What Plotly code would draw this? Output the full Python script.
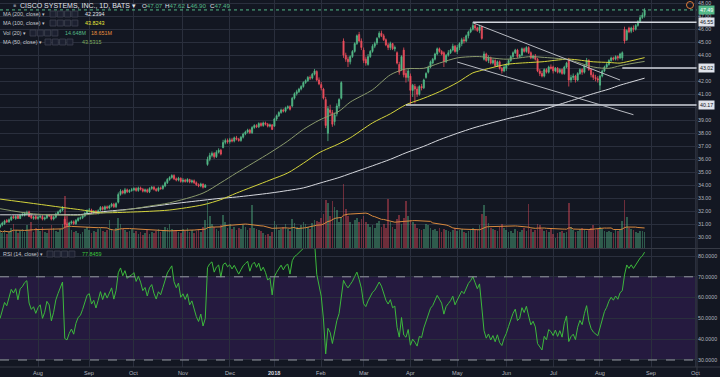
import numpy as np
import pandas as pd
import plotly.graph_objects as go

# ---------------- data ----------------
session_start = "2017-07-07"
session_end = "2018-08-29"
future_end = "2018-10-31"
market_holidays = ["2017-09-04", "2017-11-23", "2017-12-25", "2018-01-01", "2018-01-15",
                   "2018-02-19", "2018-03-30", "2018-05-28", "2018-07-04"]

open_px = [
    30.80, 30.95, 31.05, 31.30, 31.20, 31.35, 31.60, 31.45, 31.65, 31.45, 31.70, 31.70, 31.80, 31.95, 31.65, 31.45, 31.60,
    31.45, 31.55, 31.60, 31.40, 31.50, 31.70, 31.65, 31.40, 31.55, 31.80, 31.95, 32.10, 31.40, 31.00, 30.95, 31.10, 31.20, 31.05, 31.30, 31.45, 31.50, 31.65, 31.85,
    32.05, 32.10, 31.90, 32.00, 31.85, 32.10, 32.30, 32.15, 32.35, 32.25, 32.40, 32.55, 32.35, 32.70, 33.30, 33.55, 33.40, 33.65, 33.50, 33.60,
    33.65, 33.75, 33.60, 33.80, 33.70, 33.55, 33.65, 33.50, 33.75, 33.85, 33.70, 33.60, 33.80, 33.75, 33.95, 34.20, 34.45, 34.60, 34.75, 34.50, 34.40, 34.55,
    34.30, 34.40, 34.30, 34.45, 34.25, 34.35, 34.20, 34.05, 33.95, 34.10, 33.85, 35.60, 36.00, 36.30, 36.45, 36.20, 36.55, 36.70, 36.90, 37.30, 37.45,
    37.35, 37.50, 37.40, 37.65, 37.55, 37.45, 37.70, 37.95, 38.10, 38.25, 38.05, 38.45, 38.60, 38.50, 38.75, 38.60, 38.80, 38.70, 38.55, 38.65,
    38.55, 39.10, 39.35, 39.60, 39.80, 39.70, 39.95, 40.05, 40.10, 40.70, 41.05, 41.20, 41.40, 41.60, 41.90, 42.05, 42.30, 42.25, 42.55, 42.75, 42.10,
    41.75, 41.40, 40.60, 38.00, 39.80, 39.60, 38.90, 39.50, 40.10, 40.70, 45.10, 44.00, 43.70, 43.50, 43.90, 44.30, 44.90, 45.60, 45.10,
    44.40, 43.70, 43.30, 43.90, 44.30, 44.70, 44.95, 45.40, 45.70, 45.50, 45.20, 44.80, 44.60, 44.90, 44.50, 44.20, 43.30, 42.90, 44.40, 42.60, 42.30,
    42.40, 41.30, 41.60, 41.40, 41.00, 41.60, 41.50, 42.30, 42.70, 43.10, 43.40, 43.70, 44.10, 44.50, 44.30, 44.20, 43.50, 44.00, 44.20, 44.40, 44.70,
    44.30, 44.60, 44.90, 45.20, 45.10, 45.50, 45.80, 46.00, 46.30, 46.10, 45.90, 46.20, 43.70, 44.10, 43.60, 43.80, 43.40, 43.60, 43.20, 43.50, 43.00, 42.80,
    43.00, 43.30, 43.60, 43.90, 44.20, 44.40, 43.90, 44.00, 44.50, 44.30, 44.60, 44.20, 43.80, 43.95, 43.70, 42.80, 42.60, 42.40, 42.90, 42.70, 43.10,
    43.10, 42.80, 43.00, 42.70, 42.90, 42.60, 43.10, 43.70, 42.10, 42.30, 42.40, 42.10, 42.60, 42.90, 42.70, 43.20, 43.60, 42.90, 42.50, 42.30, 42.20,
    41.70, 42.40, 42.80, 43.10, 43.30, 43.60, 43.80, 43.70, 43.90, 43.80, 43.80, 46.00, 45.20, 46.10, 45.85, 46.10, 46.00, 46.30, 46.60, 46.90, 47.07,
]
high_px = [
    31.05, 31.20, 31.35, 31.40, 31.45, 31.65, 31.70, 31.70, 31.75, 31.80, 31.90, 31.95, 32.05, 32.05, 31.75, 31.65, 31.70,
    31.65, 31.70, 31.70, 31.60, 31.80, 31.80, 31.75, 31.65, 31.90, 32.05, 32.20, 32.40, 31.60, 31.15, 31.20, 31.30, 31.30, 31.40, 31.55, 31.60, 31.75, 31.95, 32.15,
    32.25, 32.20, 32.10, 32.10, 32.15, 32.40, 32.40, 32.45, 32.45, 32.50, 32.65, 32.65, 32.70, 33.45, 33.70, 33.65, 33.80, 33.75, 33.70, 33.80,
    33.85, 33.85, 33.90, 33.90, 33.80, 33.75, 33.75, 33.85, 33.95, 33.95, 33.80, 33.90, 33.90, 34.05, 34.30, 34.55, 34.70, 34.85, 34.85, 34.60, 34.65, 34.60,
    34.55, 34.50, 34.55, 34.50, 34.45, 34.45, 34.30, 34.15, 34.20, 34.15, 34.10, 36.20, 36.50, 36.60, 36.55, 36.70, 36.85, 36.80, 37.50, 37.60, 37.60,
    37.65, 37.65, 37.75, 37.80, 37.65, 37.80, 38.05, 38.20, 38.35, 38.35, 38.55, 38.70, 38.70, 38.85, 38.85, 38.90, 38.90, 38.80, 38.75, 38.70,
    39.20, 39.45, 39.70, 39.90, 39.90, 40.05, 40.15, 40.15, 40.80, 41.15, 41.35, 41.50, 41.70, 42.00, 42.15, 42.40, 42.45, 42.65, 42.95, 42.85, 42.30,
    41.95, 41.50, 40.80, 40.10, 40.20, 39.80, 39.60, 40.30, 40.70, 42.00, 45.30, 44.20, 43.90, 44.00, 44.40, 45.00, 45.60, 45.80, 45.30,
    44.60, 43.90, 44.10, 44.40, 44.85, 45.05, 45.40, 45.85, 45.90, 45.65, 45.30, 44.95, 45.05, 44.95, 44.75, 44.30, 43.50, 44.00, 44.60, 42.90, 43.00,
    42.60, 41.80, 41.80, 41.60, 41.70, 41.80, 42.20, 42.70, 43.20, 43.60, 43.80, 44.20, 44.60, 44.60, 44.40, 44.30, 44.10, 44.40, 44.50, 44.90, 44.80,
    44.80, 45.00, 45.35, 45.40, 45.60, 45.90, 46.15, 46.55, 46.40, 46.20, 46.35, 46.30, 44.30, 44.20, 44.00, 43.90, 43.75, 43.70, 43.60, 43.60, 43.10, 43.30,
    43.40, 43.70, 44.00, 44.30, 44.50, 44.50, 44.10, 44.60, 44.60, 44.70, 44.70, 44.30, 44.05, 44.10, 43.80, 42.95, 42.80, 43.00, 43.00, 43.20, 43.30,
    43.20, 43.10, 43.10, 43.00, 43.00, 43.20, 43.50, 43.80, 42.50, 42.60, 42.50, 42.70, 43.00, 43.00, 43.30, 43.80, 43.70, 43.00, 42.70, 42.50, 42.40,
    42.50, 42.90, 43.20, 43.40, 43.70, 43.90, 43.90, 44.00, 44.00, 44.20, 44.30, 46.20, 46.00, 46.20, 46.20, 46.30, 46.40, 46.70, 47.10, 47.30, 47.62,
]
low_px = [
    30.70, 30.85, 30.95, 31.10, 31.10, 31.25, 31.40, 31.35, 31.40, 31.40, 31.60, 31.60, 31.70, 31.55, 31.40, 31.35, 31.35,
    31.35, 31.45, 31.30, 31.30, 31.40, 31.55, 31.30, 31.30, 31.45, 31.75, 31.85, 32.00, 30.70, 30.80, 30.85, 31.00, 30.95, 30.95, 31.20, 31.35, 31.40, 31.55, 31.75,
    31.90, 31.80, 31.80, 31.75, 31.75, 32.00, 32.05, 32.05, 32.15, 32.15, 32.30, 32.25, 32.25, 32.60, 33.20, 33.30, 33.30, 33.40, 33.40, 33.50,
    33.55, 33.50, 33.50, 33.60, 33.45, 33.45, 33.40, 33.40, 33.65, 33.60, 33.50, 33.50, 33.65, 33.65, 33.85, 34.10, 34.35, 34.50, 34.40, 34.30, 34.30, 34.20,
    34.20, 34.20, 34.20, 34.15, 34.15, 34.10, 33.95, 33.85, 33.85, 33.75, 33.80, 35.50, 35.85, 36.15, 36.05, 36.10, 36.45, 36.30, 36.85, 37.15, 37.20,
    37.20, 37.30, 37.30, 37.45, 37.35, 37.35, 37.60, 37.85, 38.00, 37.95, 37.95, 38.35, 38.40, 38.40, 38.50, 38.50, 38.60, 38.45, 38.45, 38.25,
    38.50, 38.95, 39.25, 39.50, 39.60, 39.60, 39.85, 39.75, 40.00, 40.60, 40.90, 41.10, 41.30, 41.50, 41.80, 41.95, 42.10, 42.15, 42.45, 42.00, 41.70,
    41.30, 40.60, 38.40, 37.40, 39.40, 38.50, 38.60, 39.30, 39.90, 40.60, 43.80, 43.50, 43.10, 43.30, 43.80, 44.20, 44.80, 45.00, 44.40,
    43.40, 43.20, 43.20, 43.80, 44.20, 44.55, 44.80, 45.30, 45.40, 45.10, 44.70, 44.40, 44.40, 44.40, 44.30, 43.30, 42.50, 42.80, 42.30, 41.90, 42.00,
    40.20, 40.80, 40.30, 40.80, 40.90, 41.30, 41.40, 42.20, 42.60, 43.00, 43.30, 43.60, 44.00, 44.20, 44.00, 43.10, 43.40, 43.90, 44.10, 44.30, 44.20,
    44.10, 44.40, 44.70, 44.90, 45.00, 45.30, 45.70, 45.90, 45.90, 45.80, 45.70, 45.20, 43.60, 43.50, 43.40, 43.30, 43.30, 43.10, 43.10, 42.90, 42.60, 42.70,
    42.80, 43.20, 43.50, 43.80, 44.10, 43.80, 43.80, 43.90, 44.20, 44.20, 44.10, 43.70, 43.70, 43.60, 42.70, 42.40, 42.30, 42.30, 42.60, 42.60, 42.90,
    42.60, 42.70, 42.60, 42.60, 42.50, 42.50, 43.00, 41.60, 41.90, 42.10, 41.90, 42.00, 42.50, 42.50, 42.60, 43.10, 42.80, 42.30, 42.10, 42.00, 41.90,
    41.30, 42.30, 42.70, 43.00, 43.20, 43.50, 43.60, 43.60, 43.60, 43.70, 43.60, 44.90, 45.10, 45.70, 45.70, 45.80, 45.90, 46.20, 46.50, 46.80, 46.90,
]
close_px = [
    30.95, 31.10, 31.25, 31.20, 31.35, 31.55, 31.50, 31.60, 31.45, 31.70, 31.75, 31.85, 31.90, 31.60, 31.50, 31.55, 31.45,
    31.55, 31.60, 31.40, 31.50, 31.70, 31.65, 31.40, 31.55, 31.80, 31.95, 32.10, 32.25, 31.00, 30.95, 31.10, 31.20, 31.05, 31.30, 31.45, 31.50, 31.65, 31.85, 32.05,
    32.10, 31.90, 32.00, 31.85, 32.05, 32.30, 32.15, 32.35, 32.25, 32.40, 32.55, 32.35, 32.60, 33.30, 33.55, 33.40, 33.65, 33.50, 33.60, 33.65,
    33.75, 33.60, 33.80, 33.70, 33.55, 33.65, 33.50, 33.75, 33.85, 33.70, 33.60, 33.80, 33.75, 33.95, 34.20, 34.45, 34.60, 34.75, 34.50, 34.40, 34.55, 34.30,
    34.40, 34.30, 34.45, 34.25, 34.35, 34.20, 34.05, 33.95, 34.10, 33.85, 34.00, 36.00, 36.30, 36.45, 36.20, 36.55, 36.70, 36.40, 37.30, 37.45, 37.35,
    37.50, 37.40, 37.65, 37.55, 37.45, 37.70, 37.95, 38.10, 38.25, 38.05, 38.45, 38.60, 38.50, 38.75, 38.60, 38.80, 38.70, 38.55, 38.65, 38.30,
    39.10, 39.35, 39.60, 39.80, 39.70, 39.95, 40.05, 39.85, 40.70, 41.05, 41.20, 41.40, 41.60, 41.90, 42.05, 42.30, 42.25, 42.55, 42.80, 42.10, 41.80,
    41.50, 40.70, 38.60, 39.90, 39.60, 38.70, 39.40, 40.10, 40.60, 41.90, 44.00, 43.70, 43.50, 43.90, 44.30, 44.90, 45.50, 45.10, 44.60,
    43.60, 43.40, 43.90, 44.30, 44.70, 44.90, 45.30, 45.70, 45.50, 45.20, 44.80, 44.60, 44.90, 44.50, 44.60, 43.40, 42.70, 43.90, 42.50, 42.30, 42.80,
    41.30, 41.70, 41.40, 41.00, 41.60, 41.50, 42.10, 42.60, 43.10, 43.50, 43.70, 44.10, 44.50, 44.30, 44.10, 43.50, 44.00, 44.20, 44.40, 44.70, 44.30,
    44.60, 44.90, 45.20, 45.10, 45.50, 45.80, 46.00, 46.30, 46.10, 45.90, 46.20, 45.30, 44.10, 43.60, 43.80, 43.40, 43.60, 43.20, 43.50, 43.00, 42.80, 43.10,
    43.30, 43.60, 43.90, 44.20, 44.40, 43.90, 44.00, 44.50, 44.30, 44.60, 44.20, 43.80, 43.95, 43.70, 42.80, 42.60, 42.40, 42.90, 42.70, 43.10, 43.00,
    42.80, 43.00, 42.70, 42.90, 42.60, 43.10, 43.40, 42.10, 42.30, 42.40, 42.10, 42.60, 42.90, 42.70, 43.20, 43.60, 42.90, 42.50, 42.30, 42.20, 42.10,
    42.40, 42.80, 43.10, 43.30, 43.60, 43.80, 43.70, 43.90, 43.80, 44.10, 44.20, 45.10, 45.90, 45.80, 46.10, 46.00, 46.30, 46.60, 46.90, 47.10, 47.49,
]
volume_m = [
    16, 14, 17, 13, 15, 19, 22, 17, 14, 16, 18, 15, 21, 17, 24, 15, 19,
    18, 16, 20, 15, 14, 17, 21, 19, 16, 15, 18, 22, 48, 30, 21, 17, 15, 16, 14, 13, 15, 18, 20,
    17, 14, 16, 15, 18, 19, 16, 15, 17, 26, 18, 16, 19, 28, 22, 18, 17, 15, 16, 18,
    14, 16, 13, 15, 12, 14, 17, 13, 15, 14, 16, 18, 15, 17, 20, 19, 22, 18, 16, 17, 15, 14,
    18, 16, 19, 15, 17, 14, 16, 18, 15, 20, 26, 44, 30, 22, 20, 18, 16, 21, 31, 24, 19,
    22, 18, 20, 17, 19, 18, 21, 20, 17, 19, 40, 19, 18, 17, 16, 14, 12, 13, 11, 15,
    25, 21, 17, 18, 20, 22, 18, 16, 27, 23, 20, 19, 21, 24, 22, 20, 18, 23, 26, 25, 24,
    28, 32, 45, 42, 30, 44, 38, 35, 24, 29, 60, 36, 30, 24, 22, 26, 28, 24, 27,
    30, 24, 22, 20, 21, 19, 23, 25, 20, 22, 19, 46, 24, 20, 18, 27, 31, 22, 28, 44, 30,
    26, 24, 22, 19, 18, 17, 18, 22, 21, 19, 17, 18, 16, 19, 15, 18, 17, 16, 15, 17, 19,
    16, 17, 18, 15, 14, 16, 17, 19, 18, 17, 21, 32, 40, 30, 23, 19, 18, 17, 16, 20, 22, 19,
    17, 15, 16, 14, 18, 16, 15, 17, 19, 16, 41, 18, 15, 17, 22, 21, 18, 16, 17, 15, 19,
    13, 9, 14, 15, 16, 14, 15, 42, 20, 17, 15, 16, 18, 19, 17, 16, 18, 19, 21, 17, 18,
    20, 18, 16, 15, 16, 15, 14, 17, 16, 18, 25, 45, 29, 19, 18, 17, 15, 14, 16, 15.5, 14.648,
]

ma_dates = ["2017-07-07", "2017-07-28", "2017-08-18", "2017-08-28", "2017-09-11", "2017-10-02",
            "2017-10-11", "2017-10-24", "2017-11-14", "2017-11-27", "2017-12-06", "2017-12-28",
            "2018-01-10", "2018-01-22", "2018-01-31", "2018-02-13", "2018-02-21", "2018-03-07",
            "2018-03-19", "2018-03-28", "2018-04-10", "2018-04-19", "2018-05-01", "2018-05-10",
            "2018-05-15", "2018-06-01", "2018-06-18", "2018-06-25", "2018-07-12", "2018-07-27",
            "2018-08-07", "2018-08-14", "2018-08-17", "2018-08-29"]
ma50_vals = [32.20, 31.80, 31.70, 31.70, 31.85, 32.20, 32.40, 32.65, 33.40, 34.20, 34.95, 36.50,
             37.40, 38.30, 39.00, 39.70, 40.40, 41.35, 42.50, 42.96, 43.00, 43.40, 43.80, 43.90,
             43.90, 43.70, 43.90, 43.85, 43.65, 43.10, 43.00, 43.20, 43.30, 43.53]
ma100_vals = [32.94, 32.60, 32.25, 32.12, 31.90, 31.95, 32.00, 32.10, 32.50, 32.90, 33.40, 34.40,
              34.95, 35.70, 36.50, 37.20, 37.65, 38.80, 39.50, 40.20, 40.70, 41.20, 41.90, 42.65,
              42.80, 43.30, 43.45, 43.50, 43.70, 43.50, 43.45, 43.40, 43.50, 43.82]
ma200_vals = [31.73, 31.73, 31.74, 31.75, 31.95, 32.20, 32.35, 32.55, 32.85, 33.00, 33.10, 33.40,
              33.60, 33.80, 34.15, 34.60, 34.90, 35.50, 36.00, 36.50, 37.00, 37.50, 38.00, 38.40,
              38.55, 39.10, 39.55, 39.80, 40.45, 41.05, 41.40, 41.70, 41.85, 42.24]

# drawings on the chart
level_prices = [46.55, 43.02, 40.17]
level_start_dates = ["2018-05-10", "2018-08-15", "2018-03-28"]
trend_start_dates = ["2018-05-10", "2018-05-01"]
trend_start_prices = [46.50, 43.48]
trend_end_dates = ["2018-08-14", "2018-08-22"]
trend_end_prices = [42.10, 39.43]

month_labels = {1: "2018", 2: "Feb", 3: "Mar", 4: "Apr", 5: "May", 6: "Jun", 7: "Jul",
                8: "Aug", 9: "Sep", 10: "Oct", 11: "Nov", 12: "Dec"}
price_ticks = list(range(30, 49))
rsi_ticks = [30, 40, 50, 60, 70, 80]

# legend texts
hdr_ohlc = [("O", "47.07"), ("H", "47.62"), ("L", "46.90"), ("C", "47.49")]
ma200_txt, ma100_txt, ma50_txt = "42.2394", "43.8243", "43.5315"
vol_txt, volma_txt, rsi_txt = "14.648M", "18.651M", "77.8459"
rsi_len = 14

# ---------------- derived ----------------
dates = pd.bdate_range(session_start, session_end, freq="C", holidays=market_holidays)
n = len(dates)
assert n == len(close_px) == len(open_px) == len(high_px) == len(low_px) == len(volume_m), (n, len(close_px))
pos = {d.strftime("%Y-%m-%d"): i for i, d in enumerate(dates)}
x = np.arange(n)

future = pd.bdate_range(dates[-1] + pd.Timedelta(days=1), future_end)
all_dates = dates.append(future)
tick_idx, tick_txt = [], []
for i in range(1, len(all_dates)):
    if all_dates[i].month != all_dates[i - 1].month:
        tick_idx.append(i)
        tick_txt.append(month_labels[all_dates[i].month])

UP, DN = "#53b987", "#eb4d5c"
vol_colors = ["rgba(83,185,135,0.42)" if c >= o else "rgba(235,77,92,0.42)" for o, c in zip(open_px, close_px)]
vol_ma = pd.Series(volume_m, dtype=float).rolling(20, min_periods=1).mean()

# Wilder RSI; the averages are seeded neutral with the mean absolute move of the first period
delta = np.diff(np.asarray(close_px, dtype=float))
seed = np.abs(delta[:rsi_len]).mean() / 2
ag, al = seed, seed
rsi = [100 - 100 / (1 + ag / al)]
for dl in delta:
    ag = (ag * (rsi_len - 1) + max(dl, 0.0)) / rsi_len
    al = (al * (rsi_len - 1) + max(-dl, 0.0)) / rsi_len
    rsi.append(100 - 100 / (1 + ag / al))

ma_x = [pos[s] for s in ma_dates]

# axis labels hidden where a highlighted price box covers them (as the platform does)
boxed = [close_px[-1]] + level_prices
price_labels = [t for t in price_ticks if min(abs(t - b) for b in boxed) > 0.3]

# ---------------- layout helpers ----------------
W, H = 720, 377
BG = "#131722"
GRID = "#2a2f3d"
TXT = "#b2b5be"
FONT = "Liberation Sans, Arial, sans-serif"
AX_R = 697
x_lo, x_hi = -0.04, 312.5
p_lo, p_hi = 29.177, 48.254
r_lo, r_hi = 26.63, 83.37


def px(v):
    return v / W


def py(v):
    return 1 - v / H


fig = go.Figure()
fig.add_trace(go.Bar(x=x, y=volume_m, marker=dict(color=vol_colors, line=dict(width=0)), width=0.75,
                     xaxis="x", yaxis="y", hoverinfo="skip"))
fig.add_trace(go.Scatter(x=x, y=vol_ma, mode="lines", line=dict(color="#d9893e", width=1),
                         xaxis="x", yaxis="y", hoverinfo="skip"))
for vals, col in [(ma200_vals, "#d6d8de"), (ma100_vals, "#d4d43c"), (ma50_vals, "#8a9a6c")]:
    fig.add_trace(go.Scatter(x=ma_x, y=vals, mode="lines",
                             line=dict(color=col, width=1, shape="spline", smoothing=0.8),
                             xaxis="x", yaxis="y3", hoverinfo="skip"))
fig.add_trace(go.Candlestick(x=x, open=open_px, high=high_px, low=low_px, close=close_px,
                             xaxis="x", yaxis="y3", whiskerwidth=0,
                             increasing=dict(line=dict(color=UP, width=0.8), fillcolor=UP),
                             decreasing=dict(line=dict(color=DN, width=0.8), fillcolor=DN)))
fig.add_trace(go.Scatter(x=x, y=rsi, mode="lines", line=dict(color="#3cb83c", width=1),
                         xaxis="x2", yaxis="y2", hoverinfo="skip"))

shapes = []
shapes.append(dict(type="rect", xref="paper", yref="y2", x0=0, x1=px(AX_R), y0=30, y1=70,
                   fillcolor="#251a3f", line=dict(width=0), layer="below"))
for lv in (70, 30):
    shapes.append(dict(type="line", xref="paper", yref="y2", x0=0, x1=px(AX_R), y0=lv, y1=lv,
                       line=dict(color="#9598a1", width=1, dash="dash")))
shapes.append(dict(type="line", xref="x", yref="y3", x0=x_lo, x1=x_hi, y0=close_px[-1], y1=close_px[-1],
                   line=dict(color=UP, width=1, dash="dot")))
for p, sd in zip(level_prices, level_start_dates):
    shapes.append(dict(type="line", xref="x", yref="y3", x0=pos[sd], x1=x_hi, y0=p, y1=p,
                       line=dict(color="#d1d4dc", width=1.5)))
for sd, sp, ed, ep in zip(trend_start_dates, trend_start_prices, trend_end_dates, trend_end_prices):
    shapes.append(dict(type="line", xref="x", yref="y3", x0=pos[sd], x1=pos[ed], y0=sp, y1=ep,
                       line=dict(color="#b8bbc2", width=1)))
shapes.append(dict(type="line", xref="paper", yref="paper", x0=0, x1=1, y0=py(248.5), y1=py(248.5),
                   line=dict(color="#363a45", width=1)))
shapes.append(dict(type="line", xref="paper", yref="paper", x0=0, x1=1, y0=py(367), y1=py(367),
                   line=dict(color="#363a45", width=1)))
shapes.append(dict(type="line", xref="paper", yref="paper", x0=px(AX_R), x1=px(AX_R), y0=0, y1=1,
                   line=dict(color="#363a45", width=1)))
for x0, yc in [(50, 14), (50, 23), (30, 33), (45, 42), (47, 254)]:
    for k in range(4):
        xa = x0 + k * 7.3
        shapes.append(dict(type="rect", xref="paper", yref="paper", x0=px(xa), x1=px(xa + 6),
                           y0=py(yc + 3), y1=py(yc - 3), fillcolor="#1c2030",
                           line=dict(color="#3f4352", width=0.8)))
shapes.append(dict(type="circle", xref="paper", yref="paper", x0=px(686.5), x1=px(693.5), y0=py(8.5), y1=py(1.5),
                   line=dict(color="#e07b39", width=1)))

ann = []


def txt(x0, yc, s, size=5.4, color=TXT, anchor="left"):
    ann.append(dict(xref="paper", yref="paper", x=px(x0), y=py(yc), text=s, showarrow=False,
                    xanchor=anchor, yanchor="middle", font=dict(size=size, color=color, family=FONT)))


txt(11, 5, "■", size=5, color="#787b86")
txt(18, 5, "CISCO SYSTEMS, INC., 1D, BATS ▾", size=7, color="#e0e3eb")
for k, (lab, val) in enumerate(hdr_ohlc):
    txt(140 + k * 22.7, 5, "%s<span style='color:%s'>%s</span>" % (lab, UP, val), size=6.2, color="#e0e3eb")
txt(1, 14, "MA (200, close) ▾", color="#c5c8d0")
txt(83, 14, ma200_txt, color="#e0e3eb")
txt(1, 23, "MA (100, close) ▾", color="#c5c8d0")
txt(83, 23, ma100_txt, color="#e8e83a")
txt(1, 33, "Vol (20) ▾", color="#c5c8d0")
txt(63, 33, vol_txt, color=UP)
txt(89, 33, volma_txt, color="#e8913e")
txt(1, 42, "MA (50, close) ▾", color="#c5c8d0")
txt(80, 42, ma50_txt, color="#7fae5e")
txt(1, 254, "RSI (14, close) ▾", color="#c5c8d0")
txt(80, 254, rsi_txt, color="#3cc83c")

for ti, tt in zip(tick_idx, tick_txt):
    bold = tt == "2018"
    ann.append(dict(xref="x2", yref="paper", x=ti, y=py(373), text="<b>%s</b>" % tt if bold else tt,
                    showarrow=False, xanchor="center", yanchor="middle",
                    font=dict(size=5.6, color="#d1d4dc" if bold else TXT, family=FONT)))

for p, bg, fg in [(close_px[-1], UP, "#ffffff")] + [(lp, "#e0e3eb", "#131722") for lp in level_prices]:
    ann.append(dict(xref="paper", yref="y3", x=px(AX_R + 1), y=p, text="%.2f" % p, showarrow=False,
                    xanchor="left", yanchor="middle", bgcolor=bg, borderpad=1,
                    font=dict(size=5.3, color=fg, family=FONT)))

axis_font = dict(size=5.3, color=TXT, family=FONT)
fig.update_layout(
    width=W, height=H, margin=dict(l=0, r=0, t=0, b=0, autoexpand=False),
    paper_bgcolor=BG, plot_bgcolor=BG, showlegend=False, font=dict(family=FONT, color=TXT),
    bargap=0, shapes=shapes, annotations=ann, hovermode=False, dragmode=False,
    xaxis=dict(domain=[0, px(AX_R)], range=[x_lo, x_hi], anchor="y", tickvals=tick_idx,
               showticklabels=False, showgrid=True, gridcolor=GRID, gridwidth=1, zeroline=False,
               ticks="", showline=False, rangeslider=dict(visible=False)),
    xaxis2=dict(domain=[0, px(AX_R)], range=[x_lo, x_hi], anchor="y2", matches="x",
                tickvals=tick_idx, showticklabels=False, showgrid=True, gridcolor=GRID, gridwidth=1,
                zeroline=False, ticks="", showline=False),
    yaxis=dict(domain=[py(248), 1], range=[0, 231], visible=False, showgrid=False, zeroline=False),
    yaxis3=dict(overlaying="y", anchor="x", side="right", range=[p_lo, p_hi],
                tickvals=price_labels, tickformat=".2f", showgrid=False, zeroline=False,
                ticks="", showline=False, tickfont=axis_font),
    yaxis4=dict(overlaying="y", anchor="x", side="right", range=[p_lo, p_hi], tickvals=price_ticks,
                showticklabels=False, showgrid=True, gridcolor=GRID, gridwidth=1, zeroline=False,
                ticks="", showline=False),
    yaxis2=dict(domain=[py(367), py(249)], anchor="x2", side="right", range=[r_lo, r_hi],
                tickvals=rsi_ticks, tickformat=".4f", showgrid=True, gridcolor=GRID,
                gridwidth=1, zeroline=False, ticks="", showline=False, tickfont=axis_font),
)
# an empty trace so the grid-only price axis is drawn
fig.add_trace(go.Scatter(x=[], y=[], xaxis="x", yaxis="y4", hoverinfo="skip"))

fig.write_html("out.html", config={"displayModeBar": False, "staticPlot": True},
               post_script="document.body.style.margin='0';document.body.style.overflow='hidden';")
